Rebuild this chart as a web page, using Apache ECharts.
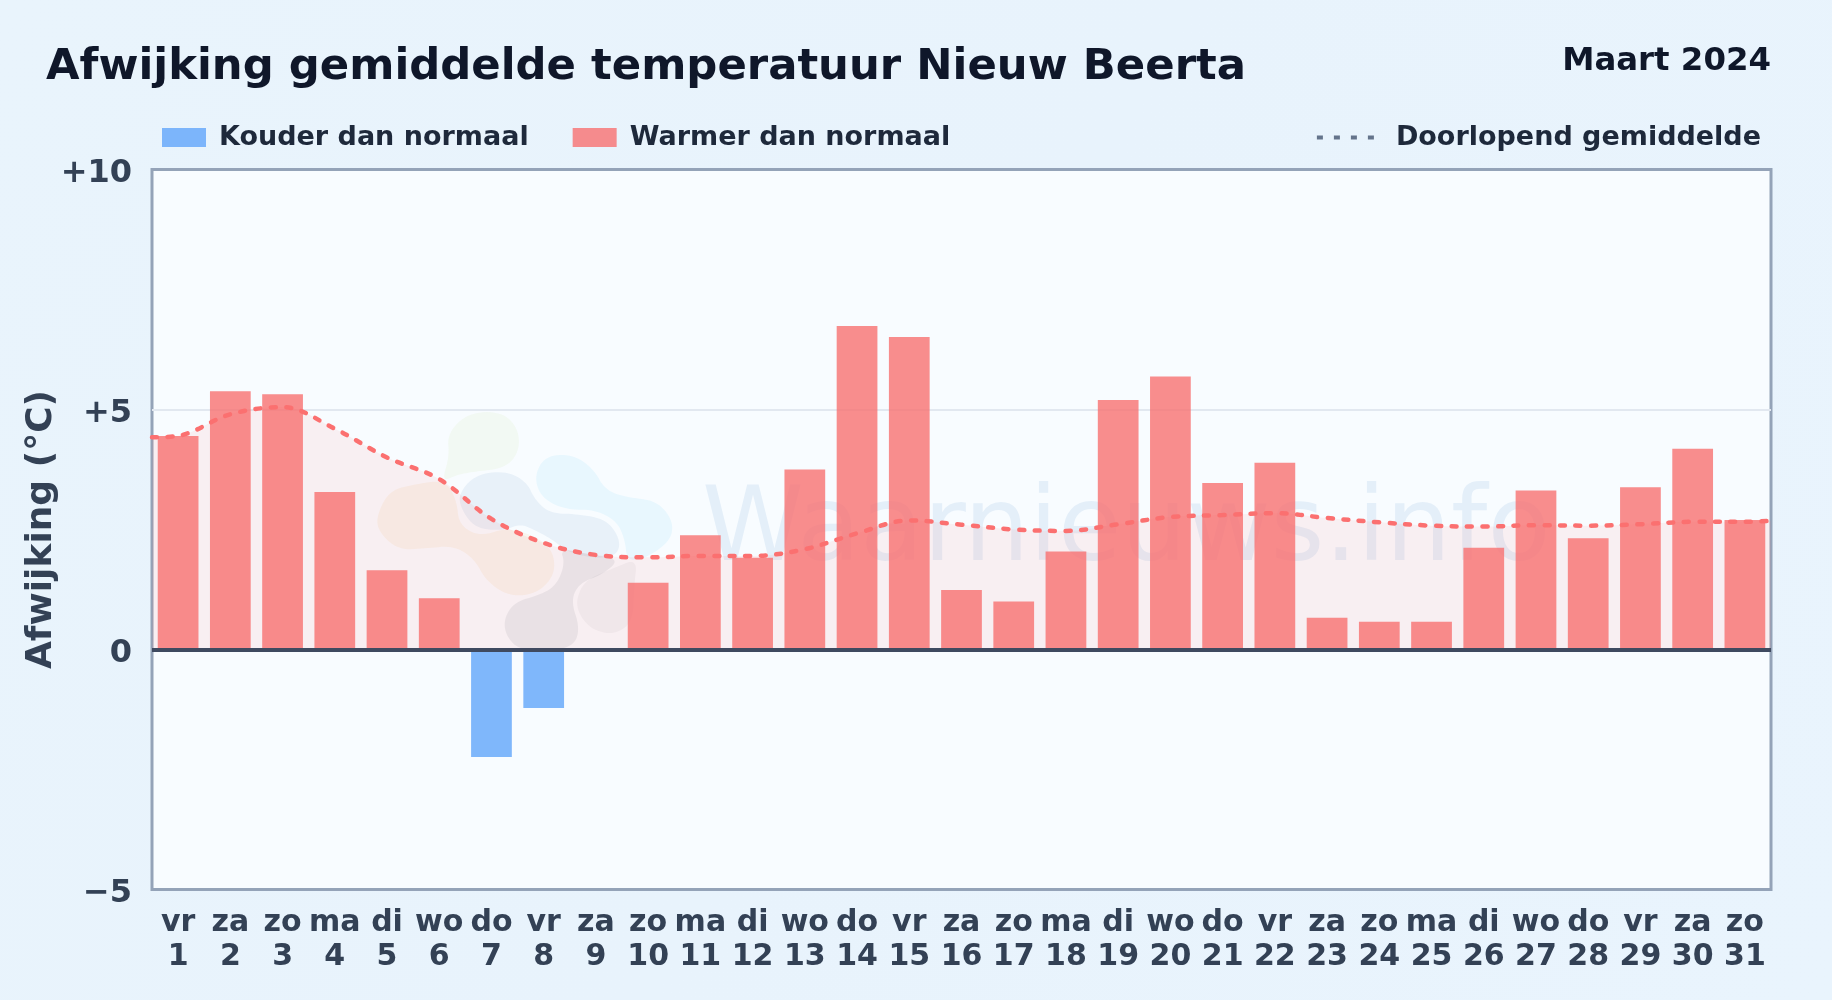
<!DOCTYPE html>
<html lang="nl">
<head>
<meta charset="utf-8">
<title>Afwijking gemiddelde temperatuur Nieuw Beerta</title>
<style>html,body{margin:0;padding:0;background:#e8f3fc}#c{width:1832px;height:1000px}</style>
<script src="https://cdn.jsdelivr.net/npm/echarts@6/dist/echarts.min.js"></script>
</head>
<body>
<div id="c"></div>
<script>
const weekdays = ['vr','za','zo','ma','di','wo','do','vr','za','zo','ma','di','wo','do','vr','za','zo','ma','di','wo','do','vr','za','zo','ma','di','wo','do','vr','za','zo'];
const days = [1,2,3,4,5,6,7,8,9,10,11,12,13,14,15,16,17,18,19,20,21,22,23,24,25,26,27,28,29,30,31];
const warmer = [4.45,5.38,5.32,3.28,1.65,1.07,null,null,null,1.39,2.38,1.91,3.75,6.74,6.51,1.24,1.0,2.04,5.2,5.69,3.47,3.89,0.66,0.58,0.58,2.12,3.31,2.32,3.38,4.18,2.7];
const kouder = [null,null,null,null,null,null,-2.24,-1.22,null,null,null,null,null,null,null,null,null,null,null,null,null,null,null,null,null,null,null,null,null,null,null];
const doorlopend = [4.45,4.9,5.05,4.6,4.0,3.55,2.72,2.22,1.97,1.92,1.95,1.95,2.09,2.42,2.69,2.6,2.5,2.47,2.61,2.76,2.8,2.84,2.74,2.65,2.58,2.56,2.59,2.58,2.61,2.66,2.66];
const doorlopendStart = 4.42;
const doorlopendEnd = 2.68;
const yTicks = {'-5':'\u22125','0':'0','5':'+5','10':'+10'};

const FONT = '"DejaVu Sans"';
const categories = weekdays.map((d,i)=>d+'\n'+days[i]);
const lineData = [[0,doorlopendStart]].concat(doorlopend.map((v,i)=>[i+0.5,v]),[[days.length,doorlopendEnd]]);

// decorative watermark logo, not data: outline rounded by corner cutting
function rounded(pts){
  let out = pts;
  for(let k=0;k<3;k++){
    const next=[];
    out.forEach((p,i)=>{
      const q=out[(i+1)%out.length];
      next.push([.75*p[0]+.25*q[0],.75*p[1]+.25*q[1]],[.25*p[0]+.75*q[0],.25*p[1]+.75*q[1]]);
    });
    out=next;
  }
  return out;
}
function lobe(pts,color){
  return {type:'polygon',z:1,silent:true,shape:{points:rounded(pts).map(p=>[p[0]/3+360,p[1]/3+400])},style:{fill:color}};
}
const logo = [
  lobe([[262,100],[325,38],[425,35],[475,85],[478,155],[435,205],[340,215],[290,225],[245,245],[268,170]],'rgba(132,204,22,0.05)'),
  lobe([[50,345],[90,270],[170,252],[255,240],[290,300],[297,375],[360,410],[450,380],[570,430],[590,515],[535,580],[450,590],[380,545],[342,475],[280,437],[200,445],[115,450],[55,395]],'rgba(245,158,11,0.07)'),
  lobe([[297,280],[345,225],[435,212],[500,245],[525,300],[570,340],[650,342],[740,358],[782,420],[770,468],[700,475],[620,455],[580,420],[520,388],[480,372],[430,392],[345,385],[302,325]],'rgba(30,100,170,0.07)'),
  lobe([[522,230],[555,168],[635,162],[700,205],[735,270],[800,292],[890,302],[938,360],[935,415],[885,458],[830,482],[800,475],[795,420],[770,362],[700,328],[620,330],[545,295]],'rgba(56,189,248,0.08)'),
  lobe([[432,655],[465,605],[540,585],[590,555],[615,490],[600,445],[700,465],[780,478],[725,525],[660,548],[632,600],[660,685],[640,740],[560,752],[475,748],[437,705]],'rgba(71,85,105,0.09)'),
  lobe([[648,600],[675,540],[760,505],[832,475],[822,560],[818,668],[760,705],[695,688],[658,645]],'rgba(71,85,105,0.05)')
];

const chart = echarts.init(document.getElementById('c'),null,{renderer:'canvas'});
chart.setOption({
  animation:false,
  backgroundColor:{type:'linear',x:0,y:0,x2:1,y2:1,colorStops:[{offset:0,color:'#e9f4fc'},{offset:.5,color:'#e8f3fc'},{offset:1,color:'#e9f4fd'}]},
  title:[
    {text:'Afwijking gemiddelde temperatuur Nieuw Beerta',left:46,top:46,padding:0,textStyle:{fontFamily:FONT,fontWeight:'bold',fontSize:43.35,color:'#0f172a'}},
    {text:'Maart 2024',right:61,top:45.5,padding:0,textStyle:{fontFamily:FONT,fontWeight:'bold',fontSize:32.4,color:'#0f172a'}}
  ],
  legend:[
    {left:162,top:124,padding:0,itemWidth:44,itemHeight:19,itemGap:44,icon:'rect',data:['Kouder dan normaal','Warmer dan normaal'],
      textStyle:{fontFamily:FONT,fontWeight:'bold',fontSize:27,color:'#1e293b',padding:[0,0,6,8]}},
    {right:71,top:124,padding:0,itemWidth:58,itemHeight:19,
      data:[{name:'Doorlopend gemiddelde',itemStyle:{opacity:0},lineStyle:{color:'#64748b',width:4,type:[6,11],opacity:1,cap:'butt'}}],
      textStyle:{fontFamily:FONT,fontWeight:'bold',fontSize:27,color:'#1e293b',padding:[0,0,6,16]}}
  ],
  grid:{left:152,top:169.5,width:1619,height:720,show:true,backgroundColor:'#f8fcff',borderColor:'#94a3b8',borderWidth:3,containLabel:false,outerBoundsMode:'none'},
  graphic:logo.concat([
    {type:'text',z:1,silent:true,left:702,top:482,style:{text:'Waarnieuws.info',fontFamily:FONT,fontWeight:'normal',fontSize:103,fill:'#3a7cc0',opacity:.1}}
  ]),
  xAxis:[
    {type:'category',data:categories,position:'bottom',axisTick:{show:false},
      axisLine:{onZero:false,show:false},
      axisLabel:{interval:0,margin:17,fontFamily:FONT,fontWeight:'bold',fontSize:30,lineHeight:34,color:'#334155'}},
    {type:'value',min:0,max:days.length,show:false}
  ],
  yAxis:{type:'value',min:-5,max:10,interval:5,
    name:'Afwijking (\u00b0C)',nameLocation:'middle',nameRotate:90,nameGap:92,nameMoveOverlap:false,
    nameTextStyle:{fontFamily:FONT,fontWeight:'bold',fontSize:36,color:'#334155'},
    axisLine:{show:false},axisTick:{show:false},
    axisLabel:{margin:20,color:'#334155',formatter:v=>'{t|'+yTicks[v]+'}',
      rich:{t:{fontFamily:FONT,fontWeight:'bold',fontSize:32,color:'#334155',padding:[8,0,0,0]}}},
    splitLine:{show:true,lineStyle:{width:2,color:['rgba(0,0,0,0)','rgba(0,0,0,0)','#e2e8f0','rgba(0,0,0,0)']}}},
  series:[
    {name:'Kouder dan normaal',type:'bar',data:kouder,barWidth:'78%',barGap:'-100%',itemStyle:{color:'#60a5fa',opacity:.8}},
    {name:'Warmer dan normaal',type:'bar',data:warmer,barWidth:'78%',barGap:'-100%',itemStyle:{color:'#f87171',opacity:.8},
      z:3,markLine:{silent:true,symbol:'none',label:{show:false},lineStyle:{color:'#3f4a60',width:4,type:'solid'},data:[{yAxis:0}]}},
    {name:'Doorlopend gemiddelde',type:'line',xAxisIndex:1,data:lineData,smooth:.35,showSymbol:false,symbol:'none',z:4,
      lineStyle:{color:'#fb7070',width:4.5,type:[5,10.5],cap:'round'},areaStyle:{color:'rgba(255,107,107,0.13)'}}
  ]
});
</script>
</body>
</html>
